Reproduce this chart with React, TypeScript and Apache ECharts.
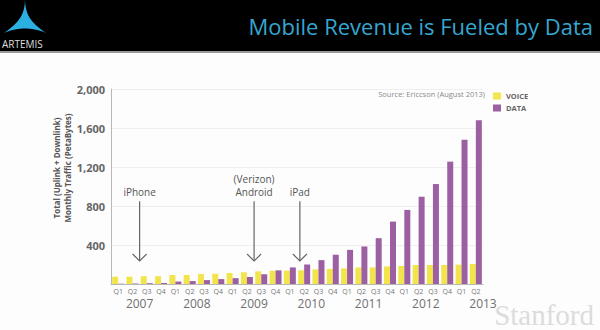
import React, { useEffect, useRef } from 'react';
import * as echarts from 'echarts';

const quarters = [
  'Q1 2007', 'Q2 2007', 'Q3 2007', 'Q4 2007',
  'Q1 2008', 'Q2 2008', 'Q3 2008', 'Q4 2008',
  'Q1 2009', 'Q2 2009', 'Q3 2009', 'Q4 2009',
  'Q1 2010', 'Q2 2010', 'Q3 2010', 'Q4 2010',
  'Q1 2011', 'Q2 2011', 'Q3 2011', 'Q4 2011',
  'Q1 2012', 'Q2 2012', 'Q3 2012', 'Q4 2012',
  'Q1 2013', 'Q2 2013',
];
const years = ['2007', '2008', '2009', '2010', '2011', '2012', '2013'];
const voice = [75, 75, 80, 80, 92, 92, 102, 105, 113, 120, 130, 135, 137, 140, 150, 154, 160, 170, 170, 180, 185, 195, 195, 195, 198, 205];
const dataTraffic = [3, 5, 8, 10, 25, 30, 40, 50, 60, 72, 100, 140, 170, 200, 245, 300, 350, 385, 470, 640, 760, 895, 1025, 1255, 1480, 1680];
const yTicks = [0, 400, 800, 1200, 1600, 2000];
const annotLabels = ['iPhone', '(Verizon)\nAndroid', 'iPad'];
const annotAt = [2, 10, 13.2]; // position in quarters from axis start
const annotTextVal = 880;
const arrowTopVal = 850;
const arrowTipVal = 236;

const LOGO = 'M25,0 C25.5,14 30,22 46,33 C38,29.5 31,28.5 25,28.5 C19,28.5 12,29.5 4,33 C20,22 24.5,14 25,0 Z';
echarts.graphic.registerShape('logo', (echarts.graphic as any).extendPath(LOGO, {}));

export default function App() {
  const ref = useRef<HTMLDivElement>(null);
  useEffect(() => {
    document.body.style.margin = '0';
    const chart = echarts.init(ref.current!, undefined, { renderer: 'svg' });
    const font = 'Open Sans';
    chart.setOption({
      animation: false,
      backgroundColor: '#fdfdfd',
      textStyle: { fontFamily: font },
      grid: { left: 111, top: 89, right: 117, bottom: 46 },
      legend: {
        orient: 'vertical',
        left: 493,
        top: 92,
        itemWidth: 8,
        itemHeight: 7,
        itemGap: 4,
        padding: 0,
        icon: 'rect',
        textStyle: { fontSize: 7.5, fontWeight: 'bold', color: '#666', fontFamily: font },
        data: ['VOICE', 'DATA'],
      },
      xAxis: [
        {
          type: 'category',
          data: quarters,
          position: 'bottom',
          axisLine: { lineStyle: { color: '#b8b8b8' } },
          axisTick: { length: 3, lineStyle: { color: '#b8b8b8' } },
          axisLabel: {
            interval: 0,
            fontSize: 7,
            color: '#777',
            margin: 4,
            formatter: (v: string) => v.split(' ')[0],
          },
        },
        {
          type: 'value',
          position: 'bottom',
          min: 0,
          max: quarters.length,
          interval: 2,
          axisLine: { show: false },
          axisTick: { show: false },
          splitLine: { show: false },
          axisLabel: {
            fontSize: 12,
            color: '#707070',
            margin: 13,
            showMaxLabel: true,
            showMinLabel: true,
            formatter: (v: number) => (v % 4 === 2 ? years[(v - 2) / 4] : ''),
          },
        },
      ],
      yAxis: {
        type: 'value',
        min: yTicks[0],
        max: yTicks[yTicks.length - 1],
        interval: 400,
        axisLine: { show: true, lineStyle: { color: '#b8b8b8' } },
        axisTick: { show: false },
        splitLine: { lineStyle: { color: '#efefef' } },
        axisLabel: {
          fontSize: 11,
          fontWeight: 'bold',
          color: '#666',
          margin: 6,
          formatter: (v: number) => (v === 0 ? '' : v.toLocaleString('en-US')),
        },
      },
      series: [
        {
          name: 'VOICE',
          type: 'bar',
          xAxisIndex: 0,
          data: voice,
          barWidth: 6,
          barGap: '0%',
          itemStyle: { color: '#f2e44c' },
        },
        {
          name: 'DATA',
          type: 'bar',
          xAxisIndex: 0,
          data: dataTraffic,
          barWidth: 6,
          barGap: '0%',
          itemStyle: { color: '#9c5fa1' },
        },
      ],
    });

    const xp = (q: number) => chart.convertToPixel({ xAxisIndex: 1 }, q) as number;
    const yp = (v: number) => chart.convertToPixel({ yAxisIndex: 0 }, v) as number;
    const graphics: any[] = [
      { type: 'rect', shape: { x: 0, y: 0, width: 600, height: 51 }, style: { fill: '#000' }, silent: true },
      { type: 'rect', shape: { x: 0, y: 51, width: 600, height: 2 }, style: { fill: '#9a9a9a' }, silent: true },
      {
        type: 'text', x: 593, y: 26,
        style: { text: 'Mobile Revenue is Fueled by Data', fontSize: 22, fontFamily: font, fill: '#36a6d0', align: 'right', verticalAlign: 'middle' },
      },
      {
        type: 'logo', x: 0, y: 0, scaleX: 1, scaleY: 1,
        style: { fill: '#2cb0e2' },
      },
      {
        type: 'text', x: 2, y: 44,
        style: { text: 'ARTEMIS', fontSize: 10, fontFamily: font, fill: '#dddddd', align: 'left', verticalAlign: 'middle' },
      },
      {
        type: 'text', x: 485, y: 93.5,
        style: { text: 'Source: Ericcson (August 2013)', fontSize: 7.5, fontFamily: font, fill: '#8a8a8a', align: 'right', verticalAlign: 'middle' },
      },
      {
        type: 'text', x: 56, y: 168, rotation: Math.PI / 2,
        style: { text: 'Total (Uplink + Downlink)', fontSize: 8, fontWeight: 'bold', fontFamily: font, fill: '#555', align: 'center', verticalAlign: 'middle' },
      },
      {
        type: 'text', x: 67, y: 168, rotation: Math.PI / 2,
        style: { text: 'Monthly Traffic (PetaBytes)', fontSize: 8, fontWeight: 'bold', fontFamily: font, fill: '#555', align: 'center', verticalAlign: 'middle' },
      },
      {
        type: 'text', x: 594, y: 315,
        style: { text: 'Stanford', fontSize: 29, fontFamily: 'Liberation Serif', fill: '#dcdcdc', align: 'right', verticalAlign: 'middle' },
      },
    ];
    annotLabels.forEach((label, i) => {
      const x = xp(annotAt[i]);
      const tip = yp(arrowTipVal);
      graphics.push({
        type: 'text', x, y: yp(annotTextVal),
        style: { text: label, fontSize: 10, fontFamily: font, fill: '#555', align: 'center', verticalAlign: 'bottom', lineHeight: 13 },
      });
      graphics.push({
        type: 'line', shape: { x1: x, y1: yp(arrowTopVal), x2: x, y2: tip },
        style: { stroke: '#666', lineWidth: 1.2 },
      });
      graphics.push({
        type: 'polyline', shape: { points: [[x - 7, tip - 7], [x, tip], [x + 7, tip - 7]] },
        style: { stroke: '#666', lineWidth: 1.2, fill: 'none' },
      });
    });
    chart.setOption({ graphic: graphics });
    return () => chart.dispose();
  }, []);
  return <div ref={ref} style={{ width: 600, height: 330 }} />;
}
